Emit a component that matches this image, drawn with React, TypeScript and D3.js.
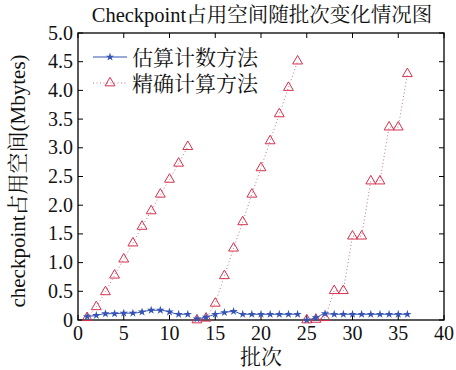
import React from "react";
import * as d3 from "d3";

const title = "Checkpoint占用空间随批次变化情况图";
const xLabel = "批次";
const yLabel = "checkpoint占用空间(Mbytes)";
const seriesNames = ["估算计数方法", "精确计算方法"];
const batches = d3.range(1, 37);
const estimateValues = [
  0.06, 0.08, 0.11, 0.11, 0.12, 0.12, 0.14, 0.17, 0.17, 0.14, 0.1, 0.1,
  0.02, 0.05, 0.1, 0.13, 0.15, 0.1, 0.1, 0.1, 0.1, 0.1, 0.1, 0.1,
  0.0, 0.04, 0.11, 0.1, 0.1, 0.1, 0.1, 0.1, 0.1, 0.1, 0.1, 0.1,
];
const exactValues = [
  0.04, 0.23, 0.49, 0.78, 1.06, 1.34, 1.63, 1.9, 2.19, 2.45, 2.73, 3.02,
  0.0, 0.03, 0.29, 0.77, 1.25, 1.71, 2.19, 2.65, 3.12, 3.59, 4.05, 4.51,
  0.0, 0.01, 0.04, 0.51, 0.51, 1.46, 1.46, 2.42, 2.42, 3.36, 3.36, 4.29,
];
const segmentStarts = [1, 13, 25];
const xTicks = [0, 5, 10, 15, 20, 25, 30, 35, 40];
const yTicks = [0, 0.5, 1.0, 1.5, 2.0, 2.5, 3.0, 3.5, 4.0, 4.5, 5.0];

const W = 456;
const H = 370;
const L = 78, R = 444, T = 33, B = 320;
const FONT = "'Liberation Serif', 'Noto Serif CJK SC', 'Noto Sans CJK SC', serif";
const BLUE = "#3553b5";
const RED = "#d4324e";
const DOT = "#c07888";

export default function App() {
  const x = d3.scaleLinear().domain([0, 40]).range([L, R]);
  const y = d3.scaleLinear().domain([0, 5]).range([B, T]);
  const pts = (vals: number[]) => batches.map((b, i) => [b, vals[i]] as [number, number]);
  const segs = (vals: number[]) =>
    segmentStarts.map((s, k) => {
      const end = k + 1 < segmentStarts.length ? segmentStarts[k + 1] : Infinity;
      return pts(vals).filter((p) => p[0] >= s && p[0] < end);
    });
  const blueLine = d3
    .line<[number, number]>()
    .x((d) => x(d[0]))
    .y((d) => y(d[1]))
    .curve(d3.curveMonotoneX);
  const redLine = d3
    .line<[number, number]>()
    .x((d) => x(d[0]))
    .y((d) => y(d[1]));
  const star = d3.symbol().type(d3.symbolStar).size(22)() || "";
  const tri = d3.symbol().type(d3.symbolTriangle).size(42)() || "";
  const tick = 5;

  return (
    <svg
      width={W}
      height={H}
      style={{ position: "absolute", left: 0, top: 0, background: "#fff" }}
      fontFamily={FONT}
    >
      <rect x={0} y={0} width={W} height={H} fill="#fff" />
      <text x={262} y={22} textAnchor="middle" fontSize={20.5} fill="#111">
        {title}
      </text>
      <rect x={L} y={T} width={R - L} height={B - T} fill="none" stroke="#000" strokeWidth={1.3} />
      {xTicks.map((t) => (
        <g key={"x" + t}>
          <line x1={x(t)} x2={x(t)} y1={B} y2={B - tick} stroke="#000" />
          <line x1={x(t)} x2={x(t)} y1={T} y2={T + tick} stroke="#000" />
          <text x={x(t)} y={B + 20} textAnchor="middle" fontSize={20} fill="#111">
            {t}
          </text>
        </g>
      ))}
      {yTicks.map((t) => (
        <g key={"y" + t}>
          <line x1={L} x2={L + tick} y1={y(t)} y2={y(t)} stroke="#000" />
          <line x1={R} x2={R - tick} y1={y(t)} y2={y(t)} stroke="#000" />
          <text x={L - 5} y={y(t) + 6.5} textAnchor="end" fontSize={20} fill="#111">
            {t === 0 ? "0" : t.toFixed(1)}
          </text>
        </g>
      ))}
      <text x={261} y={364} textAnchor="middle" fontSize={21} fill="#111">
        {xLabel}
      </text>
      <text
        transform={`translate(25,181) rotate(-90)`}
        textAnchor="middle"
        fontSize={21}
        fill="#111"
      >
        {yLabel}
      </text>
      {segs(exactValues).map((s, k) => (
        <path key={"rl" + k} d={redLine(s) || ""} fill="none" stroke={DOT} strokeWidth={1} strokeDasharray="1,2.5" />
      ))}
      {exactValues.map((v, i) => (
        <path
          key={"r" + i}
          d={tri}
          transform={`translate(${x(batches[i])},${y(v)})`}
          fill="none"
          stroke={RED}
          strokeWidth={1}
        />
      ))}
      {segs(estimateValues).map((s, k) => (
        <path key={"bl" + k} d={blueLine(s) || ""} fill="none" stroke={BLUE} strokeWidth={1} />
      ))}
      {estimateValues.map((v, i) => (
        <path key={"b" + i} d={star} transform={`translate(${x(batches[i])},${y(v)})`} fill={BLUE} />
      ))}
      <line x1={93} x2={127} y1={57} y2={57} stroke={BLUE} strokeWidth={1} />
      <path d={star} transform="translate(110,57)" fill={BLUE} />
      <text x={132} y={64.5} fontSize={21} fill="#111">
        {seriesNames[0]}
      </text>
      <line x1={93} x2={127} y1={83} y2={83} stroke={DOT} strokeDasharray="1,2.5" />
      <path d={tri} transform="translate(110,83)" fill="none" stroke={RED} />
      <text x={132} y={90.5} fontSize={21} fill="#111">
        {seriesNames[1]}
      </text>
    </svg>
  );
}
